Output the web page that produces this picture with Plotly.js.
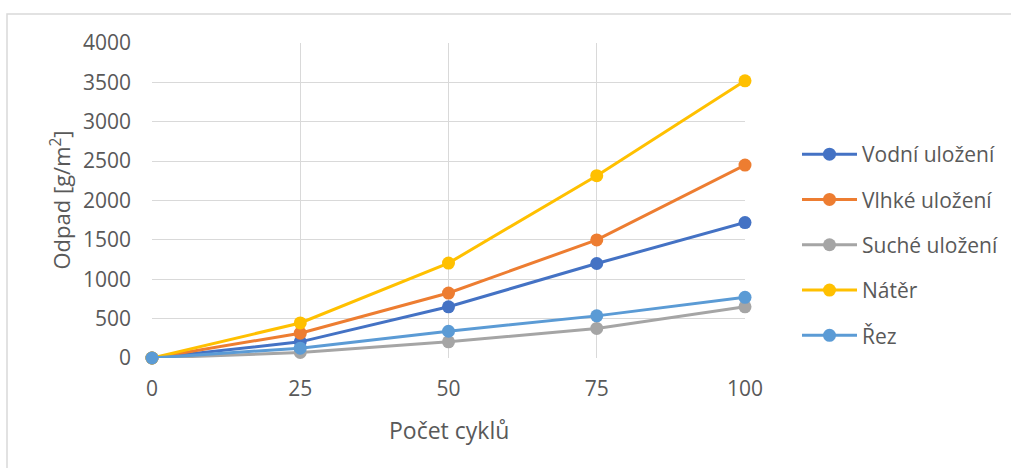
<!DOCTYPE html>
<html>
<head>
<meta charset="utf-8">
<script src="https://cdn.plot.ly/plotly-3.0.1.min.js"></script>
<style>html,body{margin:0;padding:0;background:#fff;}#chart{width:1011px;height:468px;}</style>
</head>
<body>
<div id="chart"></div>
<script>
const cycles = [0, 25, 50, 75, 100];
const seriesNames = ["Vodní uložení", "Vlhké uložení", "Suché uložení", "Nátěr", "Řez"];
const vodni = [0, 205, 650, 1200, 1720];
const vlhke = [0, 315, 825, 1500, 2450];
const suche = [0, 70, 205, 375, 650];
const nater = [0, 445, 1205, 2315, 3520];
const rez = [0, 125, 340, 535, 770];
const colors = ["#4472C4", "#ED7D31", "#A5A5A5", "#FFC000", "#5B9BD5"];
const allValues = [vodni, vlhke, suche, nater, rez];
const xTitle = "Počet cyklů";
const yTitle = "Odpad [g/m<sup>2</sup>]";

const traces = allValues.map((vals, i) => ({
  x: cycles,
  y: vals,
  name: seriesNames[i],
  type: "scatter",
  mode: "lines+markers",
  line: {color: colors[i], width: 3},
  marker: {color: colors[i], size: 13},
  cliponaxis: false,
  legendgroup: "g" + i
}));

const W = 1011, H = 468;
const mL = 152, mR = 266, mT = 43, mB = 110;
const pw = W - mL - mR, ph = H - mT - mB;

const layout = {
  width: W, height: H,
  margin: {l: mL, r: mR, t: mT, b: mB, pad: 0, autoexpand: false},
  paper_bgcolor: "#ffffff",
  plot_bgcolor: "#ffffff",
  font: {family: "Open Sans, sans-serif", size: 21, color: "#595959"},
  showlegend: true,
  legend: {
    xref: "container", yref: "container",
    x: 797 / W, xanchor: "left",
    y: 1 - 245 / H, yanchor: "middle",
    traceorder: "grouped",
    tracegroupgap: 15,
    itemwidth: 55,
    font: {size: 21, color: "#595959"},
    bgcolor: "rgba(0,0,0,0)"
  },
  xaxis: {
    range: [0, 100],
    tickvals: cycles,
    ticktext: cycles.map(String),
    showgrid: true, gridcolor: "#d9d9d9", gridwidth: 1,
    zeroline: false, showline: false, automargin: false,
    ticks: "", ticklabelstandoff: 16,
    tickfont: {size: 21, color: "#595959"}
  },
  yaxis: {
    range: [0, 4000],
    dtick: 500,
    showgrid: true, gridcolor: "#d9d9d9", gridwidth: 1,
    zeroline: false, showline: false, automargin: false,
    ticks: "", ticklabelstandoff: 20,
    tickfont: {size: 21, color: "#595959"}
  },
  annotations: [
    {
      text: xTitle, xref: "paper", yref: "paper",
      x: 0.5, xanchor: "center",
      y: -(430 - (H - mB)) / ph, yanchor: "middle",
      showarrow: false, font: {size: 23, color: "#595959"}
    },
    {
      text: yTitle, xref: "paper", yref: "paper",
      x: (60 - mL) / pw, xanchor: "center",
      y: 0.5, yanchor: "middle", textangle: -90,
      showarrow: false, font: {size: 22, color: "#595959"}
    }
  ],
  shapes: [{
    type: "rect", xref: "paper", yref: "paper",
    x0: (7 - mL) / pw, x1: (W + 20 - mL) / pw,
    y0: -(H + 20 - (H - mB)) / ph, y1: (H - mB - 14) / ph,
    line: {color: "#d9d9d9", width: 1.5},
    fillcolor: "rgba(0,0,0,0)",
    layer: "below"
  }]
};

Plotly.newPlot("chart", traces, layout, {staticPlot: true, displayModeBar: false});
</script>
</body>
</html>
